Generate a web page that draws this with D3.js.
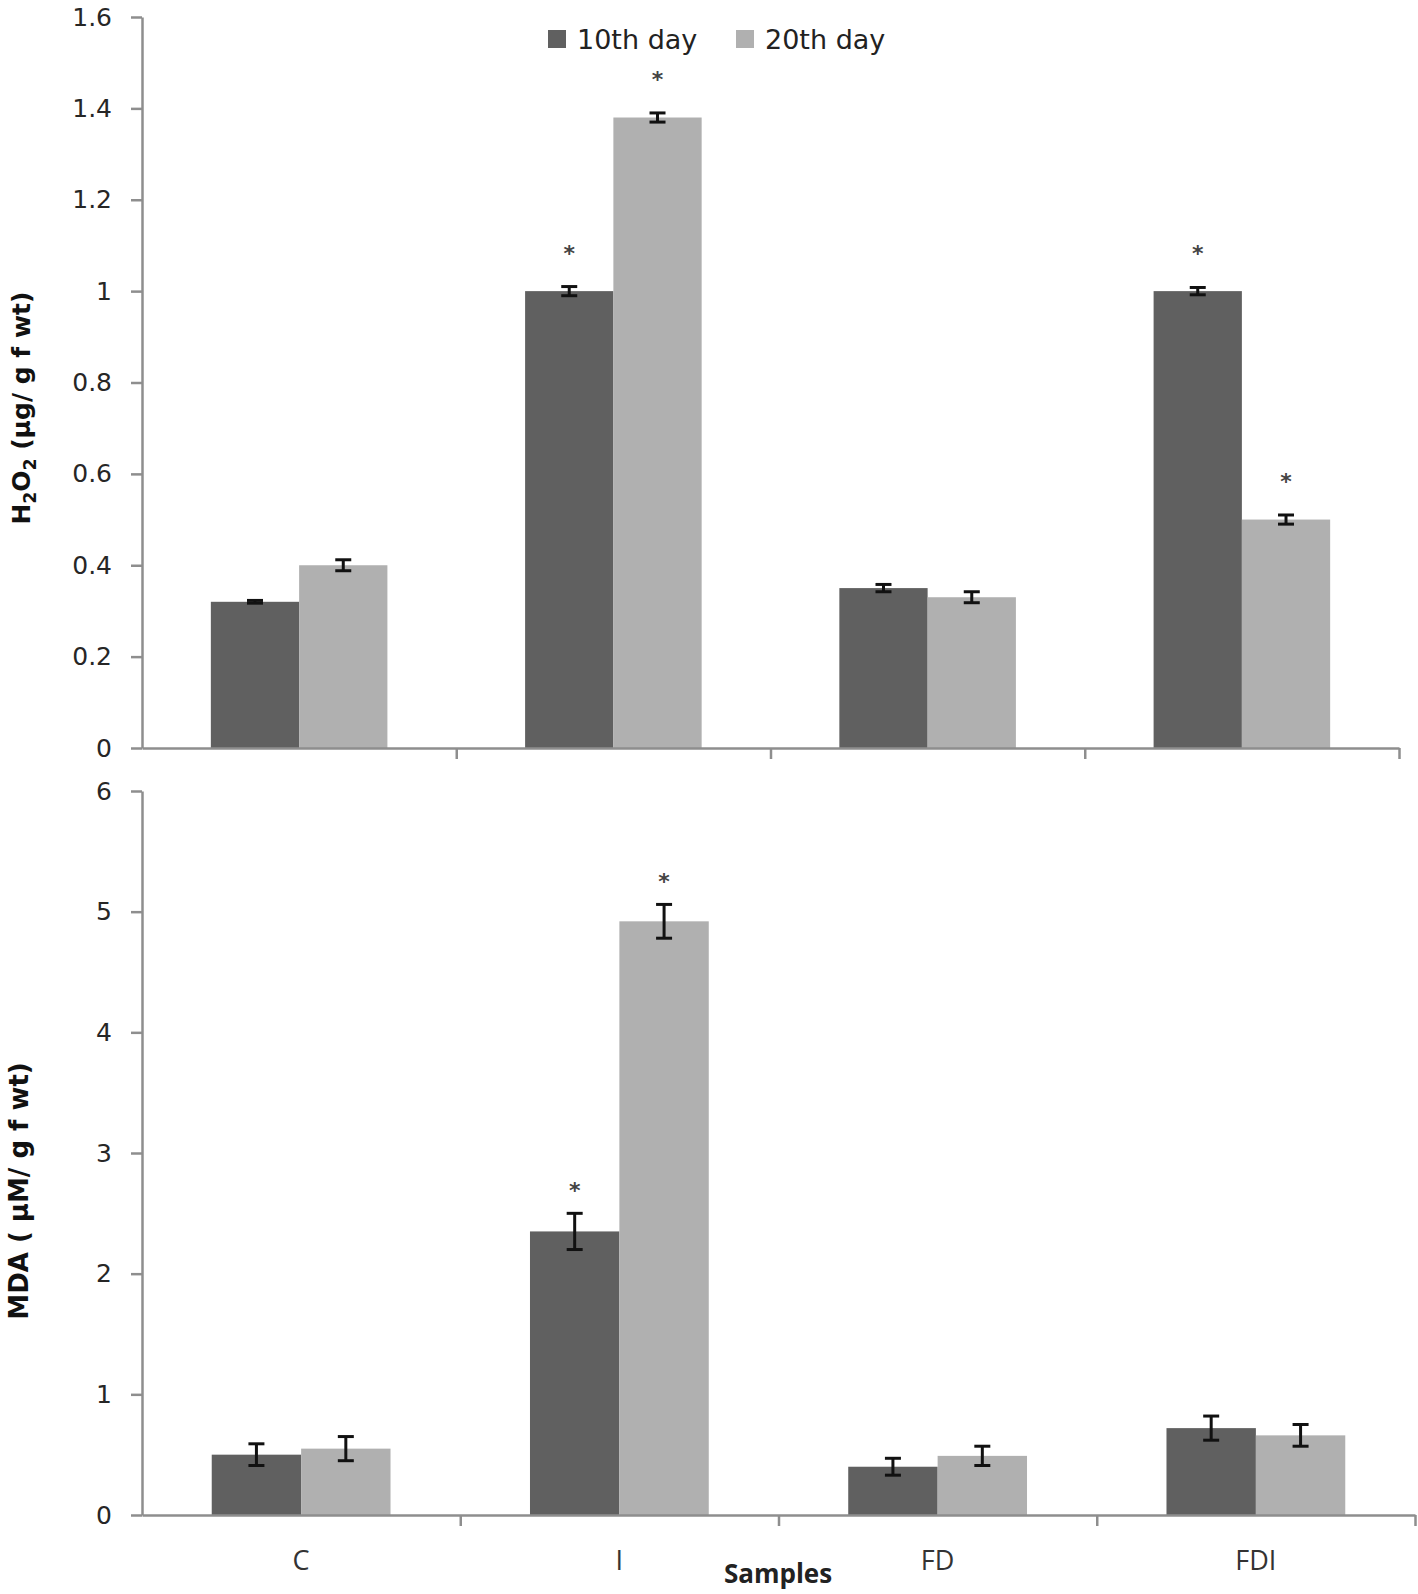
<!DOCTYPE html>
<html>
<head>
<meta charset="utf-8">
<script src="https://cdn.jsdelivr.net/npm/d3@7"></script>
<style>
  html, body { margin: 0; padding: 0; background: #fff; }
  svg { display: block; }
</style>
</head>
<body>
<svg id="chart" width="1418" height="1594"></svg>
<script>
// ---------- data ----------
const categories = ["C", "I", "FD", "FDI"];
const seriesNames = ["10th day", "20th day"];

const h2o2Day10 = [0.32, 1.00, 0.35, 1.00];
const h2o2Day20 = [0.40, 1.38, 0.33, 0.50];
const h2o2Err10 = [0.003, 0.010, 0.008, 0.008];
const h2o2Err20 = [0.012, 0.010, 0.012, 0.010];
const h2o2Sig10 = [false, true, false, true];
const h2o2Sig20 = [false, true, false, true];
const h2o2Ticks = [0, 0.2, 0.4, 0.6, 0.8, 1.0, 1.2, 1.4, 1.6];

const mdaDay10 = [0.50, 2.35, 0.40, 0.72];
const mdaDay20 = [0.55, 4.92, 0.49, 0.66];
const mdaErr10 = [0.09, 0.15, 0.07, 0.10];
const mdaErr20 = [0.10, 0.14, 0.08, 0.09];
const mdaSig10 = [false, true, false, false];
const mdaSig20 = [false, true, false, false];
const mdaTicks = [0, 1, 2, 3, 4, 5, 6];

const colors = ["#606060", "#b0b0b0"];
const axisColor = "#8e8e8e";
const tickFont = "DejaVu Sans";

const svg = d3.select("#chart");
svg.append("rect").attr("width", 1418).attr("height", 1594).attr("fill", "#fff");

function panel(cfg) {
  const g = svg.append("g");
  const y = d3.scaleLinear().domain([0, cfg.max]).range([cfg.y0, cfg.y1]);
  const x0 = d3.scaleBand().domain(categories).range([cfg.xl, cfg.xr]).paddingInner(0).paddingOuter(0);
  const x1 = d3.scaleBand().domain(seriesNames).range([0, x0.bandwidth()]).paddingInner(0).paddingOuter(0.78);
  const xb = d3.scaleLinear().domain([0, categories.length]).range([cfg.xl, cfg.xr]);

  const rows = [];
  categories.forEach((c, i) => {
    rows.push({cat: c, s: seriesNames[0], v: cfg.v10[i], e: cfg.e10[i], sig: cfg.s10[i], k: 0});
    rows.push({cat: c, s: seriesNames[1], v: cfg.v20[i], e: cfg.e20[i], sig: cfg.s20[i], k: 1});
  });

  // bars
  g.selectAll("rect.bar").data(rows).enter().append("rect")
    .attr("class", "bar")
    .attr("x", d => x0(d.cat) + x1(d.s))
    .attr("y", d => y(d.v))
    .attr("width", x1.bandwidth())
    .attr("height", d => y(0) - y(d.v))
    .attr("fill", d => colors[d.k]);

  // y axis
  const ya = g.append("g").attr("transform", `translate(${cfg.xl},0)`)
    .call(d3.axisLeft(y).tickValues(cfg.ticks).tickSize(11).tickSizeOuter(0).tickPadding(19)
      .tickFormat(d3.format(".1~f")));
  ya.select(".domain").attr("stroke", axisColor).attr("stroke-width", 2.5);
  ya.selectAll(".tick line").attr("stroke", axisColor).attr("stroke-width", 2.5);
  ya.selectAll(".tick text").attr("font-family", tickFont).attr("font-size", 25).attr("fill", "#262626");

  // x axis (ticks on category boundaries)
  const xa = g.append("g").attr("transform", `translate(0,${cfg.y0})`)
    .call(d3.axisBottom(xb).tickValues(d3.range(1, categories.length + 1)).tickSize(11).tickSizeOuter(0).tickFormat(""));
  xa.select(".domain").attr("stroke", axisColor).attr("stroke-width", 2.5);
  xa.selectAll(".tick line").attr("stroke", axisColor).attr("stroke-width", 2.5);

  // error bars
  const cap = 8;
  const eb = g.selectAll("g.err").data(rows).enter().append("g").attr("class", "err")
    .attr("stroke", "#111").attr("stroke-width", 3);
  const cx = d => x0(d.cat) + x1(d.s) + x1.bandwidth() / 2;
  eb.append("line").attr("x1", cx).attr("x2", cx).attr("y1", d => y(d.v + d.e)).attr("y2", d => y(d.v - d.e));
  eb.append("line").attr("x1", d => cx(d) - cap).attr("x2", d => cx(d) + cap).attr("y1", d => y(d.v + d.e)).attr("y2", d => y(d.v + d.e));
  eb.append("line").attr("x1", d => cx(d) - cap).attr("x2", d => cx(d) + cap).attr("y1", d => y(d.v - d.e)).attr("y2", d => y(d.v - d.e));

  // significance asterisks
  g.selectAll("text.sig").data(rows.filter(d => d.sig)).enter().append("text")
    .attr("class", "sig")
    .attr("x", cx)
    .attr("y", d => y(d.v + d.e) - cfg.starOff)
    .attr("text-anchor", "middle")
    .attr("font-family", tickFont).attr("font-weight", "bold").attr("font-size", 22).attr("fill", "#444")
    .text("*");

  // y title
  const t = g.append("text")
    .attr("transform", `translate(${cfg.titleX},${cfg.titleY}) rotate(-90)`)
    .attr("text-anchor", "middle")
    .attr("font-family", tickFont).attr("font-weight", "bold")
    .attr("font-size", cfg.titleSize).attr("fill", "#111");
  cfg.title(t);

  return {x0, y};
}

panel({
  max: 1.6, y0: 748, y1: 17, xl: 142, xr: 1399,
  v10: h2o2Day10, v20: h2o2Day20, e10: h2o2Err10, e20: h2o2Err20, s10: h2o2Sig10, s20: h2o2Sig20,
  ticks: h2o2Ticks, starOff: 26,
  titleX: 30, titleY: 408, titleSize: 25,
  title: t => {
    t.append("tspan").text("H");
    t.append("tspan").attr("font-size", 17).attr("dy", 6).text("2");
    t.append("tspan").attr("dy", -6).text("O");
    t.append("tspan").attr("font-size", 17).attr("dy", 6).text("2");
    t.append("tspan").attr("dy", -6).text(" (µg/ g f wt)");
  }
});

const bottom = panel({
  max: 6, y0: 1515, y1: 791, xl: 142, xr: 1415,
  v10: mdaDay10, v20: mdaDay20, e10: mdaErr10, e20: mdaErr20, s10: mdaSig10, s20: mdaSig20,
  ticks: mdaTicks, starOff: 15,
  titleX: 28, titleY: 1191, titleSize: 26,
  title: t => t.text("MDA ( µM/ g f wt)")
});

// category labels
svg.selectAll("text.cat").data(categories).enter().append("text")
  .attr("class", "cat")
  .attr("x", d => bottom.x0(d) + bottom.x0.bandwidth() / 2)
  .attr("y", 1570)
  .attr("text-anchor", "middle")
  .attr("font-family", "Open Sans").attr("font-size", 27).attr("fill", "#333")
  .text(d => d);

svg.append("text").attr("x", 778).attr("y", 1583).attr("text-anchor", "middle")
  .attr("font-family", "Open Sans").attr("font-weight", "bold").attr("font-size", 26).attr("fill", "#222")
  .text("Samples");

// legend
const leg = svg.append("g");
const legX = [548, 736];
seriesNames.forEach((s, i) => {
  leg.append("rect").attr("x", legX[i]).attr("y", 30).attr("width", 18).attr("height", 18).attr("fill", colors[i]);
  leg.append("text").attr("x", legX[i] + 29).attr("y", 49)
    .attr("font-family", tickFont).attr("font-size", 27).attr("fill", "#222").text(s);
});
</script>
</body>
</html>
